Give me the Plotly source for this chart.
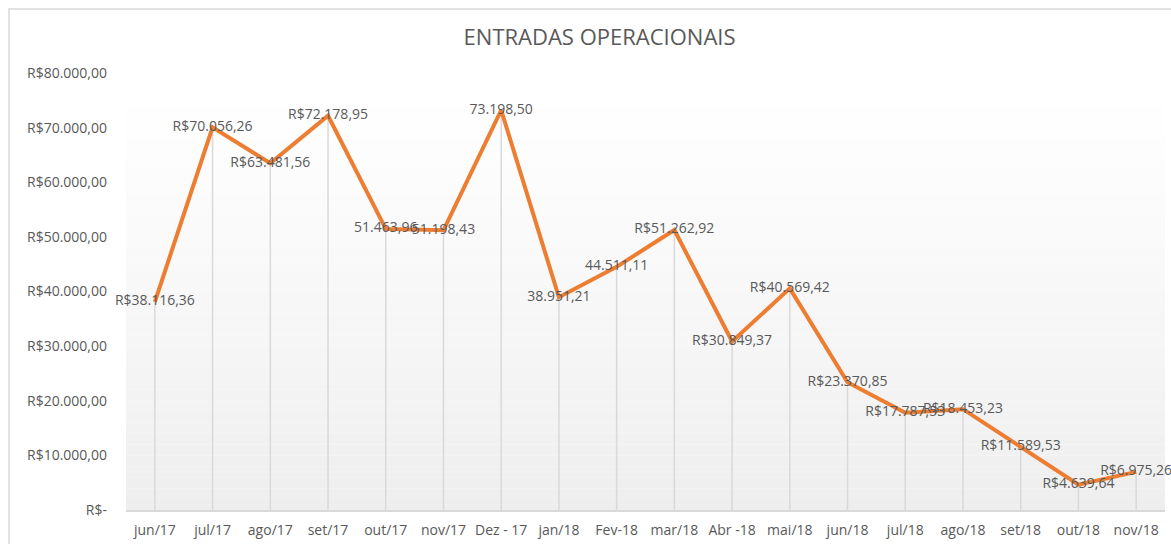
import plotly.graph_objects as go

categories = ["jun/17", "jul/17", "ago/17", "set/17", "out/17", "nov/17", "Dez - 17",
              "jan/18", "Fev-18", "mar/18", "Abr -18", "mai/18", "jun/18", "jul/18",
              "ago/18", "set/18", "out/18", "nov/18"]
values = [38116.36, 70056.26, 63481.56, 72178.95, 51463.96, 51198.43, 73198.50,
          38951.21, 44511.11, 51262.92, 30849.37, 40569.42, 23370.85, 17787.53,
          18453.23, 11589.53, 4639.64, 6975.26]
labels = ["R$38.116,36", "R$70.056,26", "R$63.481,56", "R$72.178,95", "51.463,96",
          "51.198,43", "73.198,50", "38.951,21", "44.511,11", "R$51.262,92",
          "R$30.849,37", "R$40.569,42", "R$23.370,85", "R$17.787,53", "R$18.453,23",
          "R$11.589,53", "R$4.639,64", "R$6.975,26"]
y_tickvals = [0, 10000, 20000, 30000, 40000, 50000, 60000, 70000, 80000]
y_ticktext = ["R$-", "R$10.000,00", "R$20.000,00", "R$30.000,00", "R$40.000,00",
              "R$50.000,00", "R$60.000,00", "R$70.000,00", "R$80.000,00"]

FONT = "Open Sans"
TXT = "#595959"

fig = go.Figure()

# drop lines
dx, dy = [], []
for c, v in zip(categories, values):
    dx += [c, c, None]
    dy += [0, v, None]
fig.add_trace(go.Scatter(x=dx, y=dy, mode="lines", line=dict(color="#d9d9d9", width=1.5),
                         hoverinfo="skip", showlegend=False))

fig.add_trace(go.Scatter(x=categories, y=values, mode="lines+text", text=labels,
                         textposition="middle center",
                         textfont=dict(family=FONT, size=14, color=TXT),
                         line=dict(color="#ED7D31", width=4),
                         cliponaxis=False, showlegend=False))

# background gradient in plot area
shapes = []
n = 40
for i in range(n):
    t = i / (n - 1)
    g = int(round(255 - (255 - 238) * (1 - t) ** 1.2))
    shapes.append(dict(type="rect", xref="paper", yref="paper", x0=0, x1=1,
                       y0=i / n, y1=(i + 1) / n, fillcolor=f"rgb({g},{g},{g})",
                       line=dict(width=0), layer="below"))
# outer chart frame
shapes.append(dict(type="rect", xref="paper", yref="paper", x0=-0.1126, x1=1.2,
                   y0=-0.2, y1=1.1465, line=dict(color="#d9d9d9", width=1.5),
                   fillcolor="rgba(0,0,0,0)", layer="below"))

fig.update_layout(
    width=1171, height=544,
    margin=dict(l=126, r=6, t=73, b=34, autoexpand=False),
    paper_bgcolor="white", plot_bgcolor="white",
    title=dict(text="ENTRADAS OPERACIONAIS", x=0.512, xanchor="center", y=0.932, yanchor="middle",
               font=dict(family=FONT, size=22, color=TXT)),
    shapes=shapes,
    xaxis=dict(showgrid=False, zeroline=False, showline=True, linecolor="#d9d9d9", linewidth=1.5,
               tickfont=dict(family=FONT, size=14, color=TXT), ticks="", automargin=False,
               ticklabelstandoff=6, range=[-0.5, len(categories) - 0.5]),
    yaxis=dict(range=[0, 80000], showgrid=False, zeroline=False, showline=False,
               tickvals=y_tickvals, ticktext=y_ticktext, ticks="", automargin=False,
               tickfont=dict(family=FONT, size=14, color=TXT), ticklabelstandoff=18),
    font=dict(family=FONT, color=TXT),
)

fig.write_html("out.html", config={"displayModeBar": False},
               post_script="document.body.style.margin='0';document.body.style.overflow='hidden';")
